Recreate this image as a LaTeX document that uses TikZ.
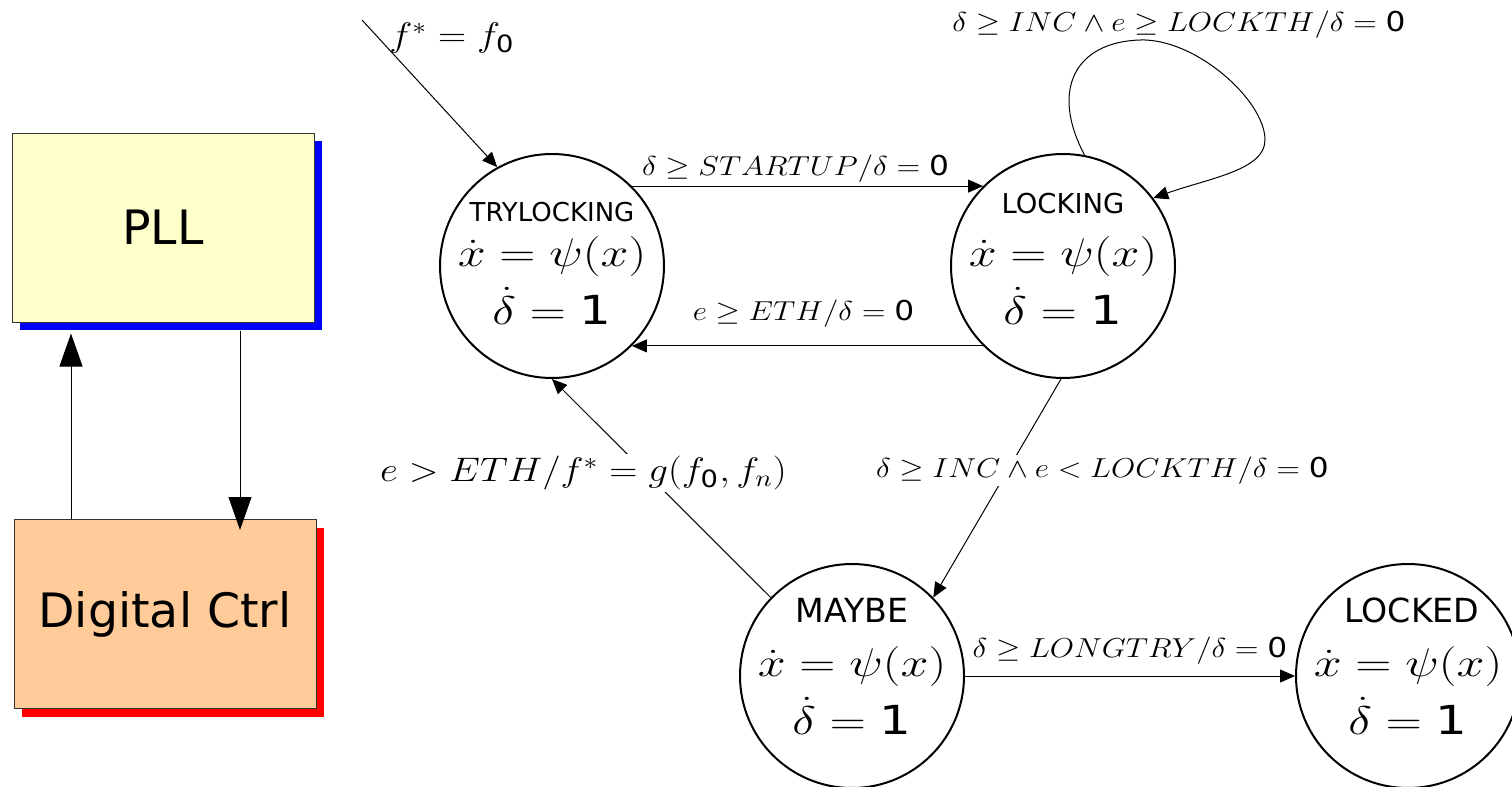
\RequirePackage{fix-cm}
\documentclass[tikz,border=0pt]{standalone}
\usepackage{amsmath,amssymb}
\usepackage{fontspec}
\setmainfont{DejaVu Sans}
\usetikzlibrary{arrows.meta,shadows}
\definecolor{pllyellow}{RGB}{255,255,204}
\definecolor{ctrlorange}{RGB}{255,204,153}
\newcommand{\wide}[2][1.14]{\scalebox{#1}[1]{#2}}

\begin{document}
\begin{tikzpicture}[
    x=0.5pt,y=-0.5pt,
    block/.style={draw=black!80,line width=0.5pt,minimum width=151pt,minimum height=94.5pt,font=\fontsize{23.7}{28}\selectfont},
    state/.style={circle,draw,line width=1pt,minimum size=112pt,inner sep=0pt,align=center,font=\fontsize{20}{29}\selectfont},
    statename/.style={inner sep=0pt,font=\fontsize{#1}{#1}\selectfont},
    link/.style={-{Triangle[length=16.5pt,width=11.5pt]},line width=0.5pt},
    trans/.style={-{Triangle[length=7.5pt,width=6.5pt]},line width=0.5pt},
    guard/.style={font=\fontsize{13.7}{16}\selectfont,inner sep=1pt},
    bigguard/.style={guard,font=\fontsize{17}{20}\selectfont}
  ]
  \useasboundingbox (0,0) rectangle (1512,787);

  % hardware side
  \node[block,fill=pllyellow,drop shadow={fill=blue,opacity=1,shadow xshift=4pt,shadow yshift=-4pt}] (pll) at (163,227.5) {PLL};
  \node[block,fill=ctrlorange,drop shadow={fill=red,opacity=1,shadow xshift=4pt,shadow yshift=-4pt}] (ctrl) at (165,614) {Digital Ctrl};

  \draw[link] ([xshift=-46pt]pll.south |- ctrl.north) -- ([xshift=-46pt,yshift=-5.5pt]pll.south);
  \draw[link] ([xshift=38.5pt,yshift=-4pt]pll.south) -- ([xshift=38.5pt,yshift=-5.5pt]pll.south |- ctrl.north);

  % automaton
  \node[state,label={[statename=13,yshift=27pt]center:TRYLOCKING}] (try) at (552,266)
    {\rule{0pt}{29pt}\wide[1.25]{$\dot{x}=\psi(x)$}\\ \wide[1.25]{$\dot{\delta}=\text{1}$}};
  \node[state,label={[statename=13.7,yshift=31pt]center:LOCKING}] (lock) at (1063,266)
    {\rule{0pt}{29pt}\wide[1.25]{$\dot{x}=\psi(x)$}\\ \wide[1.25]{$\dot{\delta}=\text{1}$}};
  \node[state,label={[statename=16.6,yshift=33pt]center:MAYBE}] (maybe) at (852,676)
    {\rule{0pt}{29pt}\wide[1.25]{$\dot{x}=\psi(x)$}\\ \wide[1.25]{$\dot{\delta}=\text{1}$}};
  \node[state,label={[statename=16.6,yshift=33pt,xshift=2pt]center:LOCKED}] (locked) at (1408,676)
    {\rule{0pt}{29pt}\wide[1.25]{$\dot{x}=\psi(x)$}\\ \wide[1.25]{$\dot{\delta}=\text{1}$}};

  \coordinate (init) at (362,20);

  \draw[trans] (init) node[bigguard,xshift=45pt,yshift=-9pt] (initl) {\wide[1.15]{$f^*=f_{\text{0}}$}} -- (try.119);
  \draw[trans] (try.45) -- node[guard,anchor=base,yshift=5.4pt,xshift=-6pt] (startl) {\wide{$\delta\geq STARTUP/\delta=\text{0}$}} (lock.135);
  \draw[trans] (lock.225) -- node[guard,anchor=base,yshift=12.6pt,xshift=-2pt] (ethl) {\wide{$e\geq ETH/\delta=\text{0}$}} (try.-45);
  \draw[trans] (lock.79) .. controls (1050,90) and (1075,42) .. (1140,40)
    node[guard,anchor=base,yshift=4pt,xshift=19.5pt] (loopl) {\wide{$\delta\geq INC\wedge e\geq LOCKTH/\delta=\text{0}$}}
    .. controls (1195,38) and (1265,100) .. (1265,140)
    .. controls (1265,170) and (1210,178) .. (lock.37);
  \draw[trans] (lock.-91) -- node[guard,pos=0.42,fill=white,xshift=47.5pt] (incl) {\wide{$\delta\geq INC\wedge e<LOCKTH/\delta=\text{0}$}} (maybe.44);
  \draw[trans] (maybe.136) -- node[bigguard,pos=0.568,fill=white,xshift=-31.5pt] (backl) {\wide[1.15]{$e>ETH/f^*=g(f_{\text{0}},f_n)$}} (try.-90);
  \draw[trans] (maybe.0) -- node[guard,anchor=base,yshift=9.5pt] (longl) {\wide{$\delta\geq LONGTRY/\delta=\text{0}$}} (locked.180);
\end{tikzpicture}
\end{document}
